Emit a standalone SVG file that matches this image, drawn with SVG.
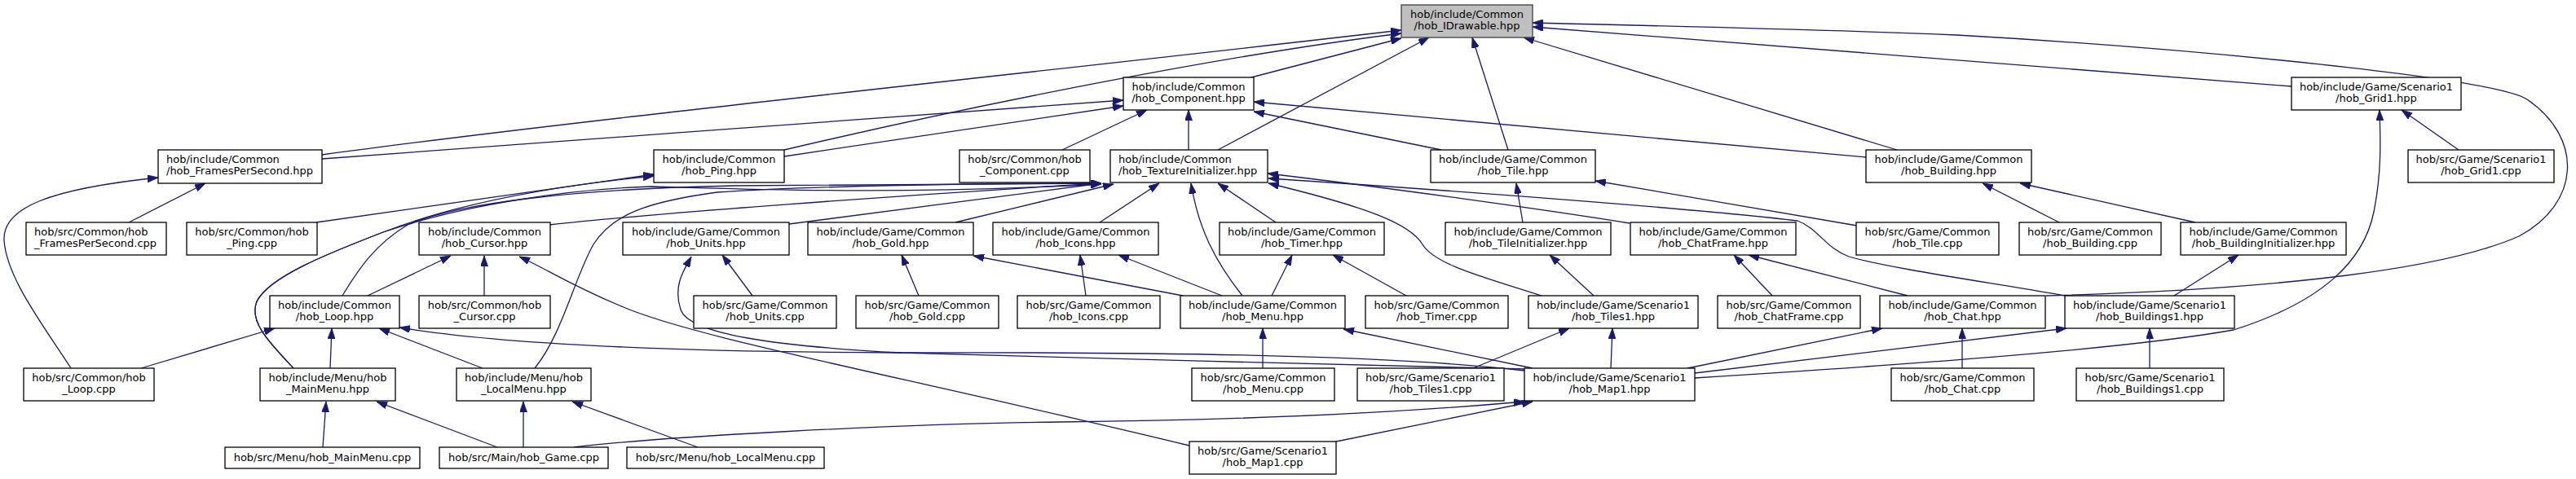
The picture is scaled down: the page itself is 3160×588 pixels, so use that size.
<svg xmlns="http://www.w3.org/2000/svg" width="3160" height="588" viewBox="0 0 3160 588">
<defs>
<style>
.n rect{fill:#fff;stroke:#000;stroke-width:1.3}
.n.g rect{fill:#bfbfbf;stroke:#404040}
.n text{font-family:"DejaVu Sans",sans-serif;font-size:13px;fill:#000;text-anchor:middle}
.n text.l{text-anchor:start}
#edges path{fill:none;stroke:#191970;stroke-width:1.3;marker-end:url(#ah)}
</style>
<marker id="ah" viewBox="0 0 13 9" refX="13" refY="4.5" markerWidth="13" markerHeight="9" markerUnits="userSpaceOnUse" orient="auto">
<path d="M0,0 L13,4.5 L0,9 z" fill="#191970" stroke="#191970" stroke-width="0.8"/>
</marker>
</defs>
<rect width="3160" height="588" fill="#fff"/>
<g id="edges">
<path d="M395,190 C700,148 1300,86 1719,37"/>
<path d="M395,195 C700,172 1100,144 1378,123"/>
<path d="M962,192 L1378,130"/>
<path d="M962,184 C1200,128 1500,68 1719,41"/>
<path d="M1535,95 L1719,47"/>
<path d="M1494,184 L1753,46"/>
<path d="M1850,184 L1806,46"/>
<path d="M2327,184 L1869,46"/>
<path d="M2811,106 L1880,33"/>
<path d="M2510,363 C2800,355 3000,330 3090,290 C3165,250 3170,170 3100,122 C3060,96 2700,60 2400,43 C2200,35 2000,31 1880,28"/>
<path d="M1768,184 L1538,137"/>
<path d="M2289,193 L1538,125"/>
<path d="M1303,184 L1407,135"/>
<path d="M1458,184 L1458,135"/>
<path d="M3016,184 L2946,135"/>
<path d="M2079,464 C2300,450 2600,430 2740,405 C2850,370 2900,320 2912,260 C2922,210 2920,170 2919,135"/>
<path d="M2526,273 L2432,225"/>
<path d="M2693,273 L2478,225"/>
<path d="M2667,363 L2746,313"/>
<path d="M2278,277 L1957,222"/>
<path d="M1868,273 L1860,225"/>
<path d="M1999,274 C1900,258 1700,230 1555,213"/>
<path d="M2533,363 C2450,348 2320,330 2268,315 C2240,305 2230,280 2205,271 C2100,258 1800,235 1556,219"/>
<path d="M1891,363 C1820,340 1760,325 1745,300 C1730,275 1680,255 1556,225"/>
<path d="M1955,363 L1901,313"/>
<path d="M1565,273 L1494,225"/>
<path d="M1524,363 C1490,320 1470,280 1461,225"/>
<path d="M1349,273 L1422,225"/>
<path d="M1172,273 L1366,226"/>
<path d="M968,275 L1351,225"/>
<path d="M674,276 C800,262 1100,240 1351,225"/>
<path d="M656,452 C690,410 705,340 728,300 C750,265 790,248 880,236 C1000,228 1200,225 1351,225"/>
<path d="M420,363 C440,330 460,300 500,276 C560,250 700,232 900,228 C1100,226 1250,225 1351,225"/>
<path d="M360,452 C330,420 305,395 315,370 C330,340 400,312 470,285 C560,250 680,228 802,216"/>
<path d="M360,452 C330,420 305,395 315,370 C330,340 400,312 470,285 C560,254 690,232 800,229 C950,233 1100,239 1351,226"/>
<path d="M388,273 L802,214"/>
<path d="M158,273 L252,225"/>
<path d="M87,452 C50,395 8,340 5,295 C3,255 60,232 194,218"/>
<path d="M451,363 L553,314"/>
<path d="M594,363 L594,314"/>
<path d="M1459,547 C1100,460 850,415 760,375 C700,350 670,330 637,315"/>
<path d="M173,452 L337,403"/>
<path d="M405,452 L407,403"/>
<path d="M592,452 L465,403"/>
<path d="M1870,455 C1700,435 1400,432 1100,433 C800,432 600,420 490,402"/>
<path d="M1870,453 C1700,448 1300,440 1106,433 C950,425 845,410 835,380 C825,350 840,330 848,315"/>
<path d="M1880,452 L1648,404"/>
<path d="M1976,452 L1978,403"/>
<path d="M1807,452 L1925,403"/>
<path d="M2070,452 L2309,403"/>
<path d="M2079,458 L2535,403"/>
<path d="M1639,542 L1880,493"/>
<path d="M704,549 C800,537 1100,520 1300,518 C1500,516 1700,508 1870,493"/>
<path d="M2340,363 L2145,313"/>
<path d="M2174,363 L2127,313"/>
<path d="M2407,452 L2407,403"/>
<path d="M2637,452 L2637,403"/>
<path d="M1549,452 L1549,403"/>
<path d="M1560,363 L1585,313"/>
<path d="M1725,363 L1635,313"/>
<path d="M1499,363 L1372,313"/>
<path d="M1451,363 L1194,314"/>
<path d="M1332,363 L1325,313"/>
<path d="M1127,363 L1106,313"/>
<path d="M923,363 L886,313"/>
<path d="M396,549 L400,493"/>
<path d="M610,549 L462,493"/>
<path d="M642,549 L642,493"/>
<path d="M856,549 L702,493"/>
</g>
<g id="n_idrawable" class="n g"><rect x="1719" y="6" width="161" height="40"/><text x="1799.5" y="22">hob/include/Common</text><text x="1799.5" y="36">/hob_IDrawable.hpp</text></g>
<g id="n_component_hpp" class="n"><rect x="1378" y="95" width="160" height="40"/><text x="1458" y="111">hob/include/Common</text><text x="1458" y="125">/hob_Component.hpp</text></g>
<g id="n_grid1_hpp" class="n"><rect x="2811" y="95" width="208" height="40"/><text x="2915" y="111">hob/include/Game/Scenario1</text><text x="2915" y="125">/hob_Grid1.hpp</text></g>
<g id="n_fps_hpp" class="n"><rect x="194" y="184" width="201" height="41"/><text class="l" x="204" y="200">hob/include/Common</text><text class="l" x="204" y="214">/hob_FramesPerSecond.hpp</text></g>
<g id="n_ping_hpp" class="n"><rect x="802" y="184" width="160" height="40"/><text x="882" y="200">hob/include/Common</text><text x="882" y="214">/hob_Ping.hpp</text></g>
<g id="n_component_cpp" class="n"><rect x="1177" y="184" width="160" height="40"/><text x="1257" y="200">hob/src/Common/hob</text><text x="1257" y="214">_Component.cpp</text></g>
<g id="n_texinit_hpp" class="n"><rect x="1362" y="184" width="193" height="40"/><text class="l" x="1372" y="200">hob/include/Common</text><text class="l" x="1372" y="214">/hob_TextureInitializer.hpp</text></g>
<g id="n_tile_hpp" class="n"><rect x="1755" y="184" width="202" height="40"/><text x="1856" y="200">hob/include/Game/Common</text><text x="1856" y="214">/hob_Tile.hpp</text></g>
<g id="n_building_hpp" class="n"><rect x="2289" y="184" width="203" height="40"/><text x="2390.5" y="200">hob/include/Game/Common</text><text x="2390.5" y="214">/hob_Building.hpp</text></g>
<g id="n_grid1_cpp" class="n"><rect x="2954" y="184" width="179" height="40"/><text x="3043.5" y="200">hob/src/Game/Scenario1</text><text x="3043.5" y="214">/hob_Grid1.cpp</text></g>
<g id="n_fps_cpp" class="n"><rect x="32" y="273" width="172" height="40"/><text class="l" x="42" y="289">hob/src/Common/hob</text><text class="l" x="42" y="303">_FramesPerSecond.cpp</text></g>
<g id="n_ping_cpp" class="n"><rect x="229" y="273" width="160" height="40"/><text x="309" y="289">hob/src/Common/hob</text><text x="309" y="303">_Ping.cpp</text></g>
<g id="n_cursor_hpp" class="n"><rect x="514" y="273" width="161" height="40"/><text x="594.5" y="289">hob/include/Common</text><text x="594.5" y="303">/hob_Cursor.hpp</text></g>
<g id="n_units_hpp" class="n"><rect x="764" y="273" width="204" height="40"/><text x="866" y="289">hob/include/Game/Common</text><text x="866" y="303">/hob_Units.hpp</text></g>
<g id="n_gold_hpp" class="n"><rect x="991" y="273" width="203" height="40"/><text x="1092.5" y="289">hob/include/Game/Common</text><text x="1092.5" y="303">/hob_Gold.hpp</text></g>
<g id="n_icons_hpp" class="n"><rect x="1218" y="273" width="203" height="40"/><text x="1319.5" y="289">hob/include/Game/Common</text><text x="1319.5" y="303">/hob_Icons.hpp</text></g>
<g id="n_timer_hpp" class="n"><rect x="1496" y="273" width="202" height="40"/><text x="1597" y="289">hob/include/Game/Common</text><text x="1597" y="303">/hob_Timer.hpp</text></g>
<g id="n_tileinit_hpp" class="n"><rect x="1773" y="273" width="203" height="40"/><text x="1874.5" y="289">hob/include/Game/Common</text><text x="1874.5" y="303">/hob_TileInitializer.hpp</text></g>
<g id="n_chatframe_hpp" class="n"><rect x="2000" y="273" width="203" height="40"/><text x="2101.5" y="289">hob/include/Game/Common</text><text x="2101.5" y="303">/hob_ChatFrame.hpp</text></g>
<g id="n_tile_cpp" class="n"><rect x="2277" y="273" width="175" height="40"/><text x="2364.5" y="289">hob/src/Game/Common</text><text x="2364.5" y="303">/hob_Tile.cpp</text></g>
<g id="n_building_cpp" class="n"><rect x="2477" y="273" width="174" height="40"/><text x="2564" y="289">hob/src/Game/Common</text><text x="2564" y="303">/hob_Building.cpp</text></g>
<g id="n_buildinit_hpp" class="n"><rect x="2675" y="273" width="203" height="40"/><text x="2776.5" y="289">hob/include/Game/Common</text><text x="2776.5" y="303">/hob_BuildingInitializer.hpp</text></g>
<g id="n_loop_hpp" class="n"><rect x="331" y="363" width="159" height="40"/><text x="410.5" y="379">hob/include/Common</text><text x="410.5" y="393">/hob_Loop.hpp</text></g>
<g id="n_cursor_cpp" class="n"><rect x="514" y="363" width="161" height="40"/><text x="594.5" y="379">hob/src/Common/hob</text><text x="594.5" y="393">_Cursor.cpp</text></g>
<g id="n_units_cpp" class="n"><rect x="851" y="363" width="175" height="40"/><text x="938.5" y="379">hob/src/Game/Common</text><text x="938.5" y="393">/hob_Units.cpp</text></g>
<g id="n_gold_cpp" class="n"><rect x="1050" y="363" width="175" height="40"/><text x="1137.5" y="379">hob/src/Game/Common</text><text x="1137.5" y="393">/hob_Gold.cpp</text></g>
<g id="n_icons_cpp" class="n"><rect x="1248" y="363" width="175" height="40"/><text x="1335.5" y="379">hob/src/Game/Common</text><text x="1335.5" y="393">/hob_Icons.cpp</text></g>
<g id="n_menu_hpp" class="n"><rect x="1448" y="363" width="202" height="40"/><text x="1549" y="379">hob/include/Game/Common</text><text x="1549" y="393">/hob_Menu.hpp</text></g>
<g id="n_timer_cpp" class="n"><rect x="1675" y="363" width="175" height="40"/><text x="1762.5" y="379">hob/src/Game/Common</text><text x="1762.5" y="393">/hob_Timer.cpp</text></g>
<g id="n_tiles1_hpp" class="n"><rect x="1875" y="363" width="208" height="40"/><text x="1979" y="379">hob/include/Game/Scenario1</text><text x="1979" y="393">/hob_Tiles1.hpp</text></g>
<g id="n_chatframe_cpp" class="n"><rect x="2107" y="363" width="175" height="40"/><text x="2194.5" y="379">hob/src/Game/Common</text><text x="2194.5" y="393">/hob_ChatFrame.cpp</text></g>
<g id="n_chat_hpp" class="n"><rect x="2306" y="363" width="203" height="40"/><text x="2407.5" y="379">hob/include/Game/Common</text><text x="2407.5" y="393">/hob_Chat.hpp</text></g>
<g id="n_buildings1_hpp" class="n"><rect x="2533" y="363" width="208" height="40"/><text x="2637" y="379">hob/include/Game/Scenario1</text><text x="2637" y="393">/hob_Buildings1.hpp</text></g>
<g id="n_loop_cpp" class="n"><rect x="29" y="452" width="160" height="40"/><text x="109" y="468">hob/src/Common/hob</text><text x="109" y="482">_Loop.cpp</text></g>
<g id="n_mainmenu_hpp" class="n"><rect x="319" y="452" width="166" height="40"/><text x="402" y="468">hob/include/Menu/hob</text><text x="402" y="482">_MainMenu.hpp</text></g>
<g id="n_localmenu_hpp" class="n"><rect x="560" y="452" width="165" height="40"/><text x="642.5" y="468">hob/include/Menu/hob</text><text x="642.5" y="482">_LocalMenu.hpp</text></g>
<g id="n_menu_cpp" class="n"><rect x="1462" y="452" width="175" height="40"/><text x="1549.5" y="468">hob/src/Game/Common</text><text x="1549.5" y="482">/hob_Menu.cpp</text></g>
<g id="n_tiles1_cpp" class="n"><rect x="1665" y="452" width="180" height="40"/><text x="1755" y="468">hob/src/Game/Scenario1</text><text x="1755" y="482">/hob_Tiles1.cpp</text></g>
<g id="n_map1_hpp" class="n"><rect x="1870" y="452" width="209" height="40"/><text x="1974.5" y="468">hob/include/Game/Scenario1</text><text x="1974.5" y="482">/hob_Map1.hpp</text></g>
<g id="n_chat_cpp" class="n"><rect x="2320" y="452" width="175" height="40"/><text x="2407.5" y="468">hob/src/Game/Common</text><text x="2407.5" y="482">/hob_Chat.cpp</text></g>
<g id="n_buildings1_cpp" class="n"><rect x="2547" y="452" width="181" height="40"/><text x="2637.5" y="468">hob/src/Game/Scenario1</text><text x="2637.5" y="482">/hob_Buildings1.cpp</text></g>
<g id="n_mainmenu_cpp" class="n"><rect x="276" y="549" width="239" height="26"/><text x="395.5" y="566">hob/src/Menu/hob_MainMenu.cpp</text></g>
<g id="n_game_cpp" class="n"><rect x="539" y="549" width="207" height="26"/><text x="642.5" y="566">hob/src/Main/hob_Game.cpp</text></g>
<g id="n_localmenu_cpp" class="n"><rect x="769" y="549" width="242" height="26"/><text x="890" y="566">hob/src/Menu/hob_LocalMenu.cpp</text></g>
<g id="n_map1_cpp" class="n"><rect x="1459" y="542" width="180" height="40"/><text x="1549" y="558">hob/src/Game/Scenario1</text><text x="1549" y="572">/hob_Map1.cpp</text></g>
</svg>
